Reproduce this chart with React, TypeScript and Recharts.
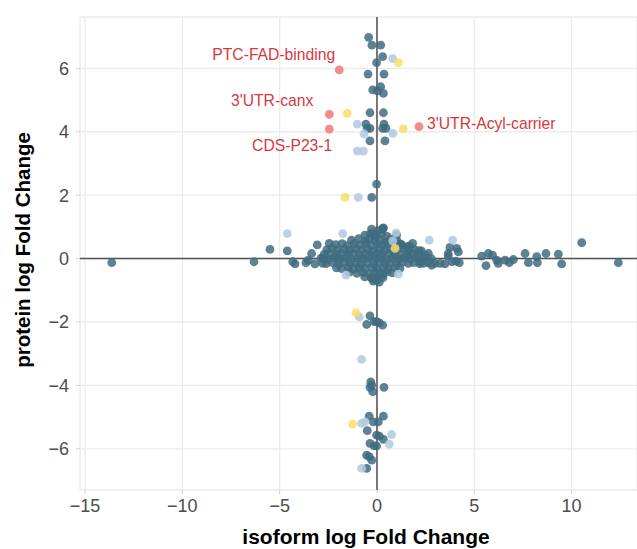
import { ScatterChart, Scatter, XAxis, YAxis, CartesianGrid, ReferenceLine } from 'recharts';

// x = isoform log FC, y = protein log FC
const xTicks = [-15, -10, -5, 0, 5, 10];
const yTicks = [-6, -4, -2, 0, 2, 4, 6];

// dense cloud around the origin
const coreCloud: [number, number][] = [
  [-0.28, 0.93], [0.04, 0.88], [0.31, 0.95],
  [-0.62, 0.74], [-0.33, 0.79], [-0.05, 0.71], [0.22, 0.77], [0.52, 0.7],
  [-1.31, 0.58], [-0.94, 0.63], [-0.61, 0.55], [-0.38, 0.62], [-0.12, 0.57], [0.17, 0.6], [0.43, 0.53], [0.71, 0.61], [1.04, 0.56],
  [-2.12, 0.44], [-1.79, 0.47], [-1.52, 0.41], [-1.18, 0.46], [-0.88, 0.43], [-0.57, 0.48], [-0.29, 0.4], [0.03, 0.46], [0.32, 0.42], [0.61, 0.47], [0.93, 0.4], [1.24, 0.45], [1.58, 0.38],
  [-2.57, 0.28], [-2.31, 0.33], [-2.02, 0.27], [-1.68, 0.31], [-1.41, 0.26], [-1.09, 0.32], [-0.79, 0.27], [-0.48, 0.3], [-0.21, 0.25], [0.12, 0.31], [0.38, 0.26], [0.72, 0.3], [1.01, 0.27], [1.33, 0.33], [1.62, 0.25], [1.91, 0.29], [2.28, 0.24],
  [-2.71, 0.14], [-2.42, 0.17], [-2.09, 0.12], [-1.83, 0.16], [-1.49, 0.13], [-1.22, 0.18], [-0.91, 0.12], [-0.58, 0.15], [-0.31, 0.11], [0.02, 0.16], [0.29, 0.13], [0.62, 0.17], [0.88, 0.12], [1.19, 0.15], [1.52, 0.11], [1.79, 0.16], [2.11, 0.13], [2.47, 0.1],
  [-2.88, 0.01], [-2.53, -0.02], [-2.19, 0.03], [-1.92, -0.01], [-1.58, 0.02], [-1.31, -0.03], [-0.98, 0.01], [-0.69, -0.02], [-0.42, 0.03], [-0.09, -0.01], [0.18, 0.02], [0.49, -0.03], [0.81, 0.01], [1.12, -0.02], [1.43, 0.03], [1.71, -0.01], [2.02, 0.02], [2.38, -0.03], [2.79, 0.0],
  [-2.61, -0.16], [-2.28, -0.13], [-1.97, -0.17], [-1.72, -0.12], [-1.38, -0.16], [-1.07, -0.14], [-0.83, -0.18], [-0.52, -0.13], [-0.18, -0.17], [0.09, -0.12], [0.42, -0.16], [0.68, -0.14], [1.02, -0.17], [1.29, -0.12], [1.61, -0.15], [1.88, -0.13], [2.19, -0.16],
  [-2.08, -0.29], [-1.81, -0.32], [-1.47, -0.28], [-1.19, -0.33], [-0.92, -0.29], [-0.61, -0.31], [-0.27, -0.28], [0.01, -0.32], [0.33, -0.29], [0.58, -0.33], [0.91, -0.28], [1.18, -0.31],
  [-1.42, -0.43], [-1.03, -0.47], [-0.72, -0.44], [-0.38, -0.48], [-0.11, -0.43], [0.21, -0.46], [0.52, -0.42], [0.79, -0.45],
  [-0.63, -0.58], [-0.29, -0.61], [0.03, -0.57], [0.31, -0.6], [-0.27, -0.62], [-0.02, -0.68], [0.29, -0.52],
  [-0.19, -0.71], [0.12, -0.74],
];

// the rest of the plain (dark) points: horizontal arm
const armPoints: [number, number][] = [
  [-13.63, -0.13], [-6.32, -0.1], [-5.5, 0.29], [-4.61, 0.24], [-4.33, -0.1], [-4.21, -0.17],
  [-3.65, -0.13], [-3.53, -0.05], [-3.36, 0.16], [-3.19, -0.17], [-3.07, 0.43], [-2.76, 0.03], [-2.79, -0.15], [-2.45, 0.48],
  [1.27, 0.43], [1.66, 0.39], [1.83, 0.48], [2.17, 0.25], [2.64, 0.16], [3.66, 0.16], [3.75, 0.35], [4.1, 0.32], [4.18, 0.21], [4.23, -0.13], [3.66, 0.08],
  [2.21, -0.1], [2.64, -0.13], [2.98, -0.15], [3.24, -0.15], [3.49, -0.17], [2.81, -0.21], [2.38, -0.15], [3.85, -0.1], [4.05, -0.08],
  [1.01, 0.74], [1.15, 0.46], [0.29, 0.92], [-0.27, 0.79], [-0.1, 0.74], [0.33, 0.97],
  [5.38, 0.08], [5.6, -0.22], [5.72, 0.16], [5.94, 0.11], [6.15, -0.05], [6.23, -0.15], [6.58, -0.05], [6.8, -0.13], [7.01, -0.03],
  [7.61, 0.16], [7.78, -0.13], [8.21, 0.06], [8.24, -0.13], [8.68, 0.16], [9.32, 0.14], [9.49, -0.17], [10.52, 0.5], [12.4, -0.13],
];

// vertical column of dark points
const columnPoints: [number, number][] = [
  [-0.43, 6.98], [-0.26, 6.73], [0.19, 6.73], [0.29, 6.37], [-0.02, 6.18], [-0.46, 5.82], [0.36, 5.82],
  [-0.22, 5.32], [0.19, 5.42], [0.33, 5.21], [0.02, 5.29], [-0.36, 4.6], [0.33, 4.6],
  [-0.57, 4.24], [-0.5, 4.11], [-0.36, 4.11], [0.36, 4.24], [0.46, 4.11], [0.29, 4.11], [-0.36, 3.71], [0.41, 3.71],
  [-0.02, 2.35], [-0.27, 1.93],
  [-0.36, -1.81], [-0.15, -1.99], [-0.02, -1.99], [0.12, -2.03], [0.29, -2.1], [-0.53, -2.08],
  [-0.32, -3.89], [-0.27, -3.99], [-0.36, -4.06], [-0.22, -4.2], [0.36, -4.06],
  [-0.4, -4.97], [0.33, -4.97], [-0.19, -5.15], [0.07, -5.15], [-0.5, -5.43], [-0.02, -5.57], [0.12, -5.6], [0.33, -5.7],
  [-0.36, -5.83], [-0.15, -5.91], [-0.02, -5.91], [-0.53, -6.2], [-0.4, -6.25], [-0.27, -6.36], [-0.53, -6.62],
];

const lightBluePoints: [number, number][] = [
  [-4.61, 0.79], [-1.76, 0.79], [-1.59, -0.52], [0.98, 0.81], [0.81, 0.56], [2.69, 0.58], [3.89, 0.58], [1.1, -0.49],
  [0.81, 6.31], [-1.01, 4.24], [-0.67, 3.93], [0.81, 3.95], [-1.01, 3.39], [-0.7, 3.39], [-0.96, 1.93],
  [-0.91, -1.84], [-0.79, -3.18], [-0.62, -5.15], [-0.79, -5.2], [0.75, -5.55], [0.63, -5.85], [-0.79, -6.62],
];

const yellowPoints: [number, number][] = [
  [0.93, 0.32], [1.1, 6.18], [-1.53, 4.58], [1.35, 4.09], [-1.64, 1.93], [-1.08, -1.71], [-1.25, -5.22],
];

const redNames = ['PTC-FAD-binding', "3'UTR-canx", 'CDS-P23-1', "3'UTR-Acyl-carrier"];
const redX = [-1.94, -2.45, -2.45, 2.16];
const redY = [5.95, 4.55, 4.08, 4.16];

// label placement relative to the point (px)
const labelPos: Record<string, { dx: number; dy: number; anchor: string }> = {
  'PTC-FAD-binding': { dx: -4, dy: -10, anchor: 'end' },
  "3'UTR-canx": { dx: -16, dy: -8, anchor: 'end' },
  'CDS-P23-1': { dx: 3, dy: 22, anchor: 'end' },
  "3'UTR-Acyl-carrier": { dx: 8, dy: 2, anchor: 'start' },
};

const FONT = '"Liberation Sans", Arial, sans-serif';

const toPoints = (pairs: [number, number][]) => pairs.map(([x, y]) => ({ x, y }));
const fmt = (v: number) => (v < 0 ? '\u2212' + Math.abs(v) : String(v));

const dot = (fill: string, opacity: number) => (props: any) => (
  <circle cx={props.cx} cy={props.cy} r={4.4} fill={fill} fillOpacity={opacity} />
);

function RedDot(props: any) {
  const { cx, cy, payload } = props;
  const pos = labelPos[payload.name];
  return (
    <g>
      <circle cx={cx} cy={cy} r={4.4} fill="#f58a8a" />
      <text x={cx + pos.dx} y={cy + pos.dy} textAnchor={pos.anchor} fill="#d7383b" fontSize={15.7} fontFamily={FONT}>
        {payload.name}
      </text>
    </g>
  );
}

function XTick({ x, y, payload }: any) {
  return (
    <text x={x} y={y} dy={16} textAnchor="middle" fill="#4d4d4d" fontSize={18} fontFamily={FONT}>
      {fmt(payload.value)}
    </text>
  );
}

function YTick({ x, y, payload }: any) {
  return (
    <text x={x - 5} y={y} dy={6.5} textAnchor="end" fill="#4d4d4d" fontSize={18} fontFamily={FONT}>
      {fmt(payload.value)}
    </text>
  );
}

export default function App() {
  const redData = redNames.map((name, i) => ({ name, x: redX[i], y: redY[i] }));
  return (
    <div style={{ position: 'absolute', left: 0, top: 0, width: 637, height: 549, background: '#fff' }}>
      <ScatterChart width={637} height={549} margin={{ top: 17, right: 0, bottom: 0, left: 0 }}>
        <CartesianGrid stroke="#ebebeb" strokeWidth={1.3} />
        <XAxis
          type="number"
          dataKey="x"
          domain={[-15.26, 13.36]}
          ticks={xTicks}
          allowDataOverflow
          height={59}
          axisLine={false}
          tickSize={4}
          tickLine={{ stroke: '#d4d4d4' }}
          tick={<XTick />}
          label={() => (
            <text x={366} y={544} textAnchor="middle" fontSize={21} fontWeight="bold" fill="#000" fontFamily={FONT}>
              isoform log Fold Change
            </text>
          )}
        />
        <YAxis
          type="number"
          dataKey="y"
          domain={[-7.3, 7.62]}
          ticks={yTicks}
          allowDataOverflow
          width={80}
          axisLine={false}
          tickSize={4}
          tickLine={{ stroke: '#d4d4d4' }}
          tick={<YTick />}
          label={() => (
            <text x={22} y={250} transform="rotate(-90, 22, 250)" textAnchor="middle" dominantBaseline="central" fontSize={20.5} fontWeight="bold" fill="#000" fontFamily={FONT}>
              protein log Fold Change
            </text>
          )}
        />
        <ReferenceLine y={0} stroke="#505050" strokeWidth={1.5} />
        <ReferenceLine x={0} stroke="#505050" strokeWidth={1.5} />
        <Scatter data={toPoints(coreCloud)} shape={dot('#3f6c80', 0.85)} isAnimationActive={false} />
        <Scatter data={toPoints(armPoints)} shape={dot('#3f6c80', 0.85)} isAnimationActive={false} />
        <Scatter data={toPoints(columnPoints)} shape={dot('#3f6c80', 0.85)} isAnimationActive={false} />
        <Scatter data={toPoints(lightBluePoints)} shape={dot('#b0c9df', 0.85)} isAnimationActive={false} />
        <Scatter data={toPoints(yellowPoints)} shape={dot('#fbdc6a', 0.85)} isAnimationActive={false} />
        <Scatter data={redData} shape={<RedDot />} isAnimationActive={false} />
      </ScatterChart>
    </div>
  );
}
